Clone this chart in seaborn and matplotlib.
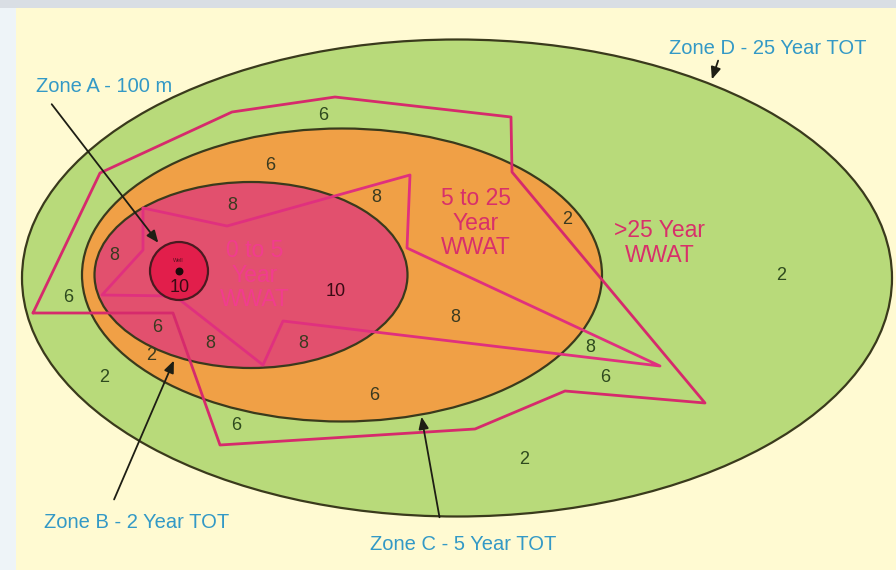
import matplotlib
matplotlib.use("Agg")
import matplotlib.pyplot as plt
from matplotlib.patches import Ellipse, Circle, Rectangle
import seaborn as sns
import pandas as pd

# ---------------- data (pixel-space diagram coordinates) ----------------
zone_names = ["Zone D", "Zone C", "Zone B"]
zone_cx = [457, 342, 251]
zone_cy = [278, 275, 275]
zone_w = [870, 520, 313]
zone_h = [477, 293, 186]
zone_colors = ["#B8DA7A", "#F0A046", "#E2506E"]

well_x, well_y, well_r = 179, 271, 29

wwat_outer_x = [33, 100, 232, 335, 511, 512, 705, 565, 475, 220, 173, 33]
wwat_outer_y = [313, 173, 112, 97, 117, 172, 403, 391, 429, 445, 313, 313]

wwat_inner_x = [143, 227, 410, 407, 660, 283, 263, 175, 102, 143, 143]
wwat_inner_y = [208, 226, 175, 248, 366, 321, 365, 296, 295, 250, 208]

score_labels = ["6", "6", "8", "8", "8", "6", "10", "2", "2", "8", "6", "8", "8",
                "2", "2", "8", "6", "6", "6", "2", "10"]
score_x = [323, 270, 232, 376, 114, 68, 336, 567, 781, 455, 157, 210, 303,
           151, 104, 590, 605, 374, 236, 524, 180]
score_y = [116, 165, 205, 198, 255, 298, 292, 219, 276, 318, 328, 344, 343,
           356, 378, 347, 378, 395, 425, 460, 288]

zone_labels = ["Zone A - 100 m", "Zone D - 25 Year TOT",
               "Zone B - 2 Year TOT", "Zone C - 5 Year TOT"]
zone_label_x = [36, 669, 44, 370]
zone_label_y = [87, 48, 522, 545]
arrow_from_x = [50, 719, 113, 440]
arrow_from_y = [102, 58, 502, 520]
arrow_to_x = [160, 711, 175, 421]
arrow_to_y = [245, 82, 358, 414]

wwat_text = ["0 to 5\nYear\nWWAT", "5 to 25\nYear\nWWAT", ">25 Year\nWWAT"]
wwat_text_x = [255, 476, 660]
wwat_text_y = [275, 223, 243]

# ---------------- drawing ----------------
sns.set_theme(style="white")
plt.rcParams['font.family'] = ['Liberation Sans', 'DejaVu Sans']

fig = plt.figure(figsize=(8.96, 5.70), dpi=100)
fig.patch.set_facecolor("#EEF4F8")
ax = fig.add_axes([0, 0, 1, 1])
ax.set_xlim(0, 896)
ax.set_ylim(570, 0)
ax.axis("off")

# background panel
ax.add_patch(Rectangle((0, 0), 896, 8, facecolor="#D9DEE4", edgecolor="none", zorder=0))
ax.add_patch(Rectangle((16, 8), 880, 562, facecolor="#FFFAD2", edgecolor="none", zorder=0))

# zones
for cx, cy, w, h, c in zip(zone_cx, zone_cy, zone_w, zone_h, zone_colors):
    ax.add_patch(Ellipse((cx, cy), w, h, facecolor=c, edgecolor="#3A3A1C",
                         linewidth=1.6, zorder=1))

# WWAT polygons via seaborn
df_outer = pd.DataFrame({"x": wwat_outer_x, "y": wwat_outer_y})
df_inner = pd.DataFrame({"x": wwat_inner_x, "y": wwat_inner_y})
sns.lineplot(data=df_outer, x="x", y="y", sort=False, estimator=None, ax=ax,
             color="#D62A6C", linewidth=2.0, zorder=3)
sns.lineplot(data=df_inner, x="x", y="y", sort=False, estimator=None, ax=ax,
             color="#E0307E", linewidth=2.0, zorder=3)
ax.set_xlim(0, 896)
ax.set_ylim(570, 0)
ax.set_xlabel("")
ax.set_ylabel("")

# well
ax.add_patch(Circle((well_x, well_y), well_r, facecolor="#E21E4B",
                    edgecolor="#4A1A20", linewidth=1.6, zorder=4))
ax.scatter([well_x], [well_y], s=22, color="#1A0A0A", zorder=5)
ax.text(well_x - 1, well_y - 11, "Well", fontsize=4, color="#5A1020",
        ha="center", va="center", zorder=6)

# score labels
green_spots = [(781, 276), (524, 460), (104, 378), (605, 378), (236, 425),
               (68, 298), (323, 116), (590, 347)]
for s, x, y in zip(score_labels, score_x, score_y):
    col = "#3A3A20"
    if (x, y) in green_spots:
        col = "#2E4A1E"
    if s == "10":
        col = "#3A0A14"
    ax.text(x, y, s, fontsize=13, color=col, ha="center", va="center", zorder=6)

# WWAT texts
ax.text(wwat_text_x[0], wwat_text_y[0], wwat_text[0], fontsize=16.5,
        color="#F23C8E", ha="center", va="center", linespacing=1.1, zorder=6)
ax.text(wwat_text_x[1], wwat_text_y[1], wwat_text[1], fontsize=16.5,
        color="#D8306A", ha="center", va="center", linespacing=1.1, zorder=6)
ax.text(wwat_text_x[2], wwat_text_y[2], wwat_text[2], fontsize=16.5,
        color="#D8306A", ha="center", va="center", linespacing=1.1, zorder=6)

# zone annotations
for lab, lx, ly, fx, fy, tx, ty in zip(zone_labels, zone_label_x, zone_label_y,
                                       arrow_from_x, arrow_from_y,
                                       arrow_to_x, arrow_to_y):
    ax.text(lx, ly, lab, fontsize=14.5, color="#3399C6", ha="left", va="center", zorder=7)
    ax.annotate("", xy=(tx, ty), xytext=(fx, fy),
                arrowprops=dict(arrowstyle="-|>,head_length=0.6,head_width=0.25",
                                color="#1E1E14", linewidth=1.3),
                zorder=7)

fig.savefig("out.png", dpi=100)
